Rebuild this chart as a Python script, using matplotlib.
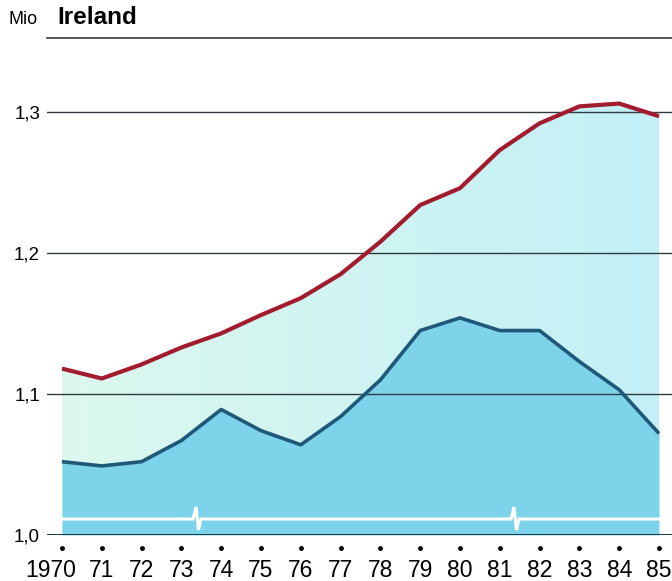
import matplotlib.pyplot as plt
import matplotlib.transforms as mtransforms
from matplotlib.colors import LinearSegmentedColormap
import numpy as np

years = np.arange(1970, 1986)
year_labels = ["1970", "71", "72", "73", "74", "75", "76", "77",
               "78", "79", "80", "81", "82", "83", "84", "85"]

# upper (red) series, Mio
total = [1.118, 1.111, 1.121, 1.133, 1.143, 1.156, 1.168, 1.185,
         1.208, 1.234, 1.246, 1.273, 1.292, 1.304, 1.306, 1.297]
# lower (blue) series, Mio
lower = [1.052, 1.049, 1.052, 1.067, 1.089, 1.074, 1.064, 1.084,
         1.110, 1.145, 1.154, 1.145, 1.145, 1.123, 1.103, 1.072]

y_ticks = [1.0, 1.1, 1.2, 1.3]
y_tick_labels = ["1,0", "1,1", "1,2", "1,3"]

plt.rcParams['font.family'] = ['Liberation Sans', 'DejaVu Sans']
narrow = ['Liberation Sans Narrow', 'Liberation Sans', 'DejaVu Sans']

fig = plt.figure(figsize=(6.72, 5.81), dpi=100)
ax = fig.add_axes([47 / 672, 46 / 581, 625 / 672, 497 / 581])

x0, x1 = 1970 - 15 / 39.8, 1985 + 13 / 39.8
y0, y1 = 1.0, 1.0 + 497 / 1410
ax.set_xlim(x0, x1)
ax.set_ylim(y0, y1)

# light area under the red line, soft left-to-right gradient
poly = ax.fill_between(years, y0, total, color='none', lw=0)
grad = np.linspace(0, 1, 256).reshape(1, -1)
cmap = LinearSegmentedColormap.from_list('light', ['#dcf8ee', '#cff4f2', '#c3f0f7'])
img = ax.imshow(grad, cmap=cmap, aspect='auto', extent=[1970, 1985, y0, 1.31],
                zorder=1, interpolation='bicubic')
img.set_clip_path(poly.get_paths()[0], transform=ax.transData)

# blue area under the lower line
ax.fill_between(years, y0, lower, color='#7dd3ea', lw=0, zorder=2)

# grid lines
for t in y_ticks[1:]:
    ax.axhline(t, color='#2f3a40', lw=1.0, zorder=3)
ax.axhline(y1, color='#2f3a40', lw=1.2, zorder=3, clip_on=False)
ax.axhline(y0, color='#1a3a48', lw=1.4, zorder=3)

# axis break line (white zigzag)
dx, dy = 1 / 39.8, 0.1 / 141
yb = 1.0 + 16 * dy
bx, by = [1970], [yb]
for c in [1970 + 135 / 39.8, 1970 + 453 / 39.8]:
    bx += [c - 4 * dx, c - 1 * dx, c + 1.5 * dx, c + 4 * dx]
    by += [yb, yb + 12 * dy, yb - 11 * dy, yb]
bx.append(1985)
by.append(yb)
ax.plot(bx, by, color='white', lw=2.2, zorder=4, solid_joinstyle='miter')

# data lines
ax.plot(years, lower, color='#1f5878', lw=2.6, zorder=5, solid_capstyle='butt')
ax.plot(years, total, color='#a31b2e', lw=3.0, zorder=6, solid_capstyle='butt')

# ticks
for s in ax.spines.values():
    s.set_visible(False)
ax.set_yticks(y_ticks)
ax.set_yticklabels(y_tick_labels, fontsize=13.5)
ax.tick_params(axis='y', length=0, pad=5)
ax.set_xticks(years)
ax.set_xticklabels(year_labels, fontsize=16.5, family=narrow)
ax.tick_params(axis='x', length=0, pad=17)
first = ax.get_xticklabels()[0]
first.set_transform(first.get_transform() +
                    mtransforms.ScaledTranslation(-11 / 100, 0, fig.dpi_scale_trans))

trans = mtransforms.blended_transform_factory(ax.transData, ax.transAxes)
ax.plot(years, [-13 / 497] * len(years), 'o', color='black', ms=2.5,
        transform=trans, clip_on=False)

fig.text(8 / 672, 1 - 20 / 581, "Mio", fontsize=13, va='center', ha='left')
fig.text(57 / 672, 1 - 18 / 581, "Ireland", fontsize=17.5, fontweight='bold',
         va='center', ha='left')

fig.savefig("out.png", dpi=100)
